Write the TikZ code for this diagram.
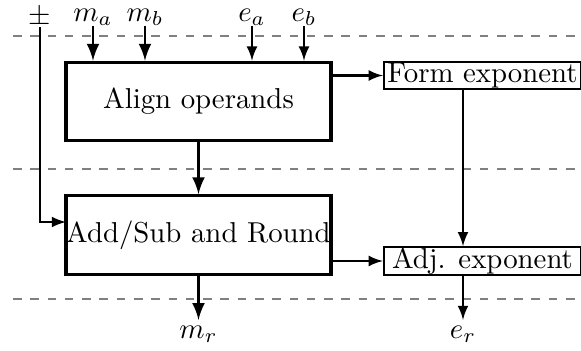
\documentclass[tikz,border=0pt]{standalone}
\usetikzlibrary{arrows}
\begin{document}
\begin{tikzpicture}[x=0.3472pt,y=-0.3472pt,
  bigbox/.style={draw,line width=1.1pt,inner sep=0pt,minimum width=92pt,minimum height=27.3pt},
  smallbox/.style={draw,line width=0.8pt,inner sep=0pt,minimum width=68.4pt,minimum height=9.5pt},
  lab/.style={inner sep=0pt},
  outlab/.style={inner sep=0pt,outer sep=2pt},
  mant/.style={line width=1pt,-latex},
  expo/.style={line width=0.7pt,-latex},
  sep/.style={draw=gray,line width=0.5pt,dashed}]
\useasboundingbox (0,0) rectangle (581,351);
% separators
\draw[sep] (13,36) -- (581,36);
\draw[sep] (13,169) -- (581,169);
\draw[sep] (13,299) -- (581,299);
% boxes
\node[bigbox] (align) at (198.5,101.5) {Align operands};
\node[bigbox] (addsub) at (198.5,235) {Add/Sub and Round};
\node[smallbox] (form) at (482.5,75.5) {Form exponent};
\node[smallbox] (adj) at (482.5,261) {Adj. exponent};
% labels
\node[lab] (pm) at (40,17.2) {$\pm$};
\node[lab] (ma) at (93,17.5) {$m_a$};
\node[lab] (mb) at (145,17.5) {$m_b$};
\node[lab] (ea) at (252,17.5) {$e_a$};
\node[lab] (eb) at (304,17.5) {$e_b$};
\node[outlab] (mr) at (198.5,334) {$m_r$};
\node[outlab] (er) at (463,334) {$e_r$};
\coordinate (ecol) at (463,0);
\coordinate (pmtop) at (40,27);
\coordinate (pmin) at (66,222);
% connectors
\draw[mant] (ma.south) -- (ma.south |- align.north);
\draw[mant] (mb.south) -- (mb.south |- align.north);
\draw[expo] (ea.south) -- (ea.south |- align.north);
\draw[expo] (eb.south) -- (eb.south |- align.north);
\draw[expo] (pmtop) |- (pmin);
\draw[mant] (align.south) -- (addsub.north);
\draw[expo] (align.east |- form.west) -- (form.west);
\draw[expo] (ecol |- form.south) -- (ecol |- adj.north);
\draw[expo] (addsub.east |- adj.west) -- (adj.west);
\draw[mant] (addsub.south) -- (mr.north);
\draw[expo] (ecol |- adj.south) -- (er.north);
\end{tikzpicture}
\end{document}
